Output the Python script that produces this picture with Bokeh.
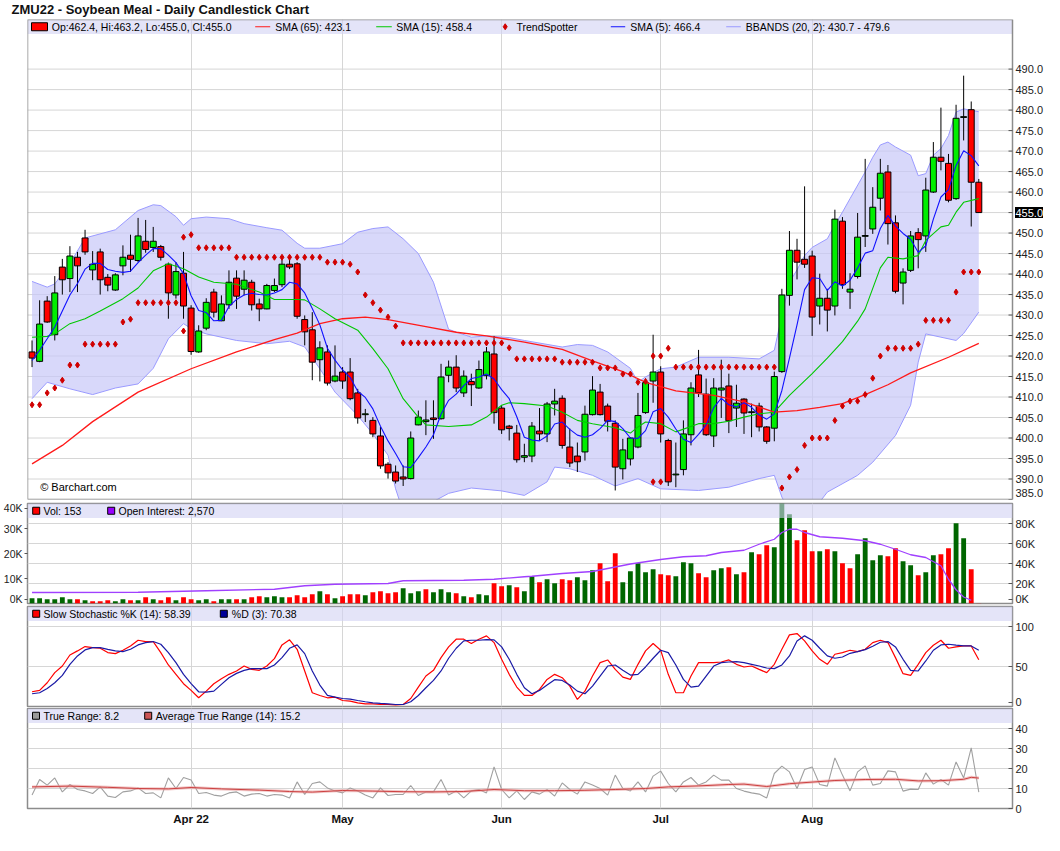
from bokeh.plotting import figure
from bokeh.layouts import column
from bokeh.models import Range1d, FixedTicker, LinearAxis
from bokeh.core.properties import value
from bokeh.embed import file_html
from bokeh.resources import INLINE

FONT = "Liberation Sans"

# ---------------- data ----------------
month_idx = [21, 41, 62, 83, 103]
month_labels = ["Apr 22", "May", "Jun", "Jul", "Aug"]

opens = [421.0, 418.7, 433.4, 425.2, 441.7, 438.9, 444.1, 448.8, 441.0, 445.4,
         439.2, 436.1, 442.0, 444.6, 443.3, 448.0, 446.5, 446.7, 442.4, 434.9,
         440.2, 431.7, 421.0, 426.8, 435.6, 428.6, 432.5, 439.0, 436.3, 438.0,
         432.7, 431.5, 436.0, 437.4, 442.4, 442.5, 428.9, 426.4, 419.1, 421.0,
         413.9, 416.1, 416.1, 411.0, 405.7, 404.3, 400.5, 393.6, 391.7, 390.5,
         390.1, 403.2, 404.0, 404.9, 404.7, 415.3, 417.3, 411.0, 413.8, 412.2,
         415.2, 420.5, 407.3, 402.9, 401.2, 395.3, 395.6, 401.7, 401.0, 408.3,
         409.7, 397.8, 395.6, 396.6, 405.7, 411.2, 407.8, 403.6, 392.5, 394.9,
         397.8, 406.2, 413.9, 416.1, 399.4, 391.0, 392.3, 400.8, 415.4, 410.7,
         400.5, 411.7, 412.7, 407.3, 409.5, 406.2, 407.8, 402.7, 402.4, 416.2,
         434.8, 445.8, 443.6, 444.4, 432.2, 434.1, 432.2, 452.9, 435.6, 439.4,
         449.2, 451.0, 458.5, 464.9, 452.5, 437.8, 440.9, 450.1, 449.3, 460.0,
         468.5, 467.0, 458.4, 478.2, 480.1, 462.4]
highs = [423.8, 433.6, 434.6, 439.5, 443.7, 446.8, 445.4, 450.8, 445.6, 446.2,
         440.0, 440.2, 447.0, 449.6, 453.7, 453.2, 451.5, 447.1, 442.8, 442.9,
         445.4, 432.4, 427.5, 434.1, 436.4, 434.8, 440.9, 440.9, 440.9, 438.6,
         434.0, 437.6, 438.9, 444.5, 444.5, 442.9, 429.9, 430.7, 423.6, 422.6,
         422.6, 417.3, 419.5, 412.0, 407.1, 405.1, 402.7, 394.1, 393.3, 393.3,
         401.6, 406.7, 409.2, 409.2, 418.1, 418.9, 420.2, 416.5, 415.7, 418.9,
         422.2, 424.9, 408.0, 403.2, 403.2, 398.6, 403.9, 407.3, 408.8, 412.0,
         410.4, 402.3, 398.9, 407.9, 415.1, 413.2, 408.4, 404.3, 399.8, 400.2,
         411.0, 414.5, 425.2, 417.5, 399.8, 398.9, 404.3, 413.6, 421.5, 414.5,
         414.6, 419.1, 415.7, 413.0, 409.7, 408.4, 408.6, 402.9, 416.2, 436.4,
         450.5, 448.6, 461.4, 445.7, 440.1, 436.4, 455.7, 453.9, 440.2, 454.9,
         468.1, 461.2, 468.1, 466.6, 454.3, 441.4, 450.5, 451.2, 463.5, 472.2,
         480.6, 469.3, 481.3, 488.4, 482.1, 463.2]
lows = [417.3, 418.5, 428.1, 423.8, 435.0, 435.6, 435.6, 444.7, 438.5, 435.0,
        435.8, 435.9, 439.7, 440.5, 442.9, 445.2, 445.4, 443.3, 429.1, 434.0,
        429.1, 420.3, 420.8, 426.3, 429.4, 428.5, 431.5, 431.5, 434.8, 431.1,
        428.5, 431.4, 435.6, 436.8, 441.2, 429.1, 422.6, 414.1, 413.8, 412.8,
        413.6, 412.0, 409.2, 403.5, 403.9, 400.2, 392.5, 390.1, 388.9, 388.3,
        389.9, 403.1, 400.7, 399.8, 404.5, 413.6, 411.2, 410.0, 407.8, 412.0,
        414.3, 403.5, 401.0, 399.4, 394.0, 394.1, 394.1, 399.4, 399.0, 405.5,
        397.4, 392.9, 391.7, 394.5, 405.5, 405.5, 401.6, 387.2, 389.9, 393.3,
        397.5, 405.9, 408.6, 398.9, 388.3, 388.0, 390.9, 398.2, 410.0, 400.5,
        397.8, 404.9, 401.2, 402.7, 401.0, 400.2, 401.6, 398.6, 399.2, 415.9,
        432.3, 438.7, 441.5, 424.9, 427.7, 426.0, 429.9, 436.4, 431.5, 438.9,
        446.6, 449.8, 455.5, 447.2, 435.3, 432.6, 440.5, 441.4, 445.4, 459.8,
        465.3, 457.5, 458.1, 472.6, 451.6, 455.0]
closes = [419.5, 427.8, 428.3, 435.4, 438.6, 444.4, 442.0, 445.4, 442.4, 438.6,
          437.3, 439.8, 444.1, 443.6, 449.3, 446.0, 448.0, 444.1, 435.4, 440.6,
          432.2, 421.1, 426.1, 433.1, 430.7, 432.7, 438.0, 434.6, 438.5, 432.5,
          431.5, 437.2, 437.2, 442.4, 441.7, 429.7, 425.9, 418.5, 422.0, 413.4,
          415.1, 413.9, 409.6, 404.9, 405.9, 401.0, 393.2, 391.5, 389.5, 390.0,
          400.0, 405.1, 404.4, 404.5, 414.9, 417.3, 412.2, 415.1, 413.0, 416.7,
          421.0, 406.2, 402.0, 402.3, 394.7, 395.7, 402.9, 401.0, 408.3, 409.0,
          398.2, 393.9, 394.2, 405.8, 411.7, 405.7, 404.1, 392.9, 397.1, 400.0,
          405.5, 413.5, 416.1, 401.0, 389.3, 391.2, 401.0, 412.2, 411.0, 400.8,
          412.2, 412.2, 404.2, 408.5, 406.1, 406.4, 402.7, 399.2, 415.0, 434.9,
          445.8, 442.9, 442.4, 429.5, 434.1, 431.2, 453.4, 437.4, 436.3, 449.0,
          449.4, 456.3, 464.6, 452.3, 435.8, 440.5, 449.3, 448.4, 460.5, 468.5,
          467.5, 458.0, 478.0, 478.4, 462.4, 455.0]

sma5 = [418.9, 421.4, 424.2, 427.1, 431.0, 434.9, 437.7, 441.2, 442.6, 442.6,
        441.1, 440.7, 440.4, 440.7, 442.8, 444.6, 446.2, 446.2, 444.6, 442.8,
        440.1, 434.7, 431.1, 430.6, 428.6, 428.7, 432.1, 433.8, 434.9, 435.3,
        435.0, 434.9, 435.4, 436.2, 438.0, 437.6, 435.4, 431.6, 427.6, 421.9,
        419.0, 416.6, 414.8, 411.4, 409.9, 407.1, 402.9, 399.3, 396.2, 393.0,
        392.8, 395.2, 397.8, 400.8, 405.8, 409.2, 410.7, 412.8, 414.5, 414.9,
        415.6, 414.4, 411.8, 409.6, 405.2, 400.2, 399.5, 399.3, 400.5, 403.4,
        403.9, 402.1, 400.7, 400.2, 400.8, 402.3, 404.3, 404.0, 402.3, 400.0,
        399.9, 401.8, 406.4, 407.2, 405.1, 402.2, 399.7, 398.9, 400.9, 403.2,
        407.4, 409.7, 408.1, 407.6, 408.6, 407.5, 405.6, 404.6, 405.9, 411.6,
        419.5, 427.6, 436.2, 439.1, 438.9, 436.0, 438.1, 437.1, 438.5, 441.5,
        445.1, 445.7, 451.1, 454.3, 451.7, 449.9, 448.5, 445.3, 446.9, 453.4,
        458.8, 460.6, 466.5, 470.1, 468.9, 466.4]

sma15_x = [0, 2, 3, 5, 7, 9, 12, 14, 16, 18, 20, 22, 24, 27, 30, 32, 35, 36, 38, 40,
           43, 45, 47, 49, 51, 52, 55, 58, 60, 62, 63, 65, 68, 70, 72, 74, 77, 79, 80, 81,
           83, 85, 88, 90, 92, 94, 96, 98, 100, 103, 105, 107, 109, 110, 111, 112, 113, 115, 117, 118,
           120, 121, 122, 123, 125]
sma15_y = [424.6, 424.8, 425.4, 427.9, 429.1, 431.0, 434.0, 436.6, 440.8, 442.5,
           441.3, 439.3, 438.0, 437.5, 435.6, 433.8, 433.8, 433.7, 431.5, 429.1,
           426.3, 421.8, 416.9, 409.6, 405.1, 403.2, 402.8, 403.2, 405.1, 408.0,
           408.6, 408.4, 407.8, 406.3, 404.3, 403.5, 402.5, 401.2, 402.7, 403.9,
           403.5, 401.5, 403.5, 403.5, 404.1, 405.1, 405.9, 406.3, 410.4, 415.7,
           419.5, 423.5, 428.5, 431.5, 436.5, 441.5, 444.1, 443.7, 444.5, 448.2,
           451.5, 451.9, 455.1, 457.5, 458.4]

sma65_x = [0, 4, 8, 14, 21, 27, 32, 35, 38, 41, 44, 47, 52, 56, 60, 65, 70, 74, 78, 81,
           85, 90, 94, 98, 101, 104, 107, 110, 113, 116, 121, 125]
sma65_y = [393.7, 398.2, 404.0, 411.2, 416.9, 421.0, 424.0, 425.6, 427.9, 429.1,
           429.5, 428.9, 427.2, 425.8, 424.9, 423.4, 421.6, 418.8, 416.2, 413.6,
           411.5, 410.4, 408.8, 406.3, 406.7, 407.5, 408.4, 410.6, 413.0, 415.9,
           419.7, 423.1]

bbu_x = [0, 2, 3, 5, 7, 11, 14, 16, 17, 19, 20, 21, 23, 26, 28, 31, 33, 35, 36, 38,
         41, 43, 45, 47, 49, 51, 53, 55, 58, 60, 63, 65, 70, 72, 74, 76, 79, 80, 81, 83,
         85, 88, 92, 96, 98, 99, 100, 101, 102, 103, 105, 106, 107, 108, 110, 111, 112, 113, 114, 116,
         117, 118, 119, 120, 121, 122, 123, 125]
bbu_y = [438.2, 436.8, 437.6, 442.5, 448.8, 450.8, 455.5, 456.9, 456.7, 454.0,
         451.9, 453.5, 453.9, 453.5, 452.3, 451.3, 450.7, 447.5, 446.3, 446.3,
         447.4, 450.2, 451.1, 451.5, 448.6, 445.0, 438.0, 426.5, 424.6, 424.9,
         424.5, 423.8, 422.2, 422.8, 422.6, 421.0, 417.0, 413.6, 414.9, 416.9,
         417.3, 419.7, 419.7, 419.3, 421.4, 429.9, 438.0, 441.0, 444.5, 446.5,
         448.6, 452.0, 455.1, 458.4, 464.9, 468.5, 471.5, 472.2, 471.0, 469.0,
         464.0, 464.5, 469.0, 470.6, 473.8, 479.5, 480.3, 479.6]
bbl_x = [0, 2, 5, 8, 11, 14, 16, 18, 20, 21, 23, 27, 31, 34, 36, 38, 40, 43, 45, 47,
         48, 49, 51, 53, 55, 58, 62, 65, 68, 69, 71, 74, 77, 80, 83, 88, 92, 96, 98, 99,
         100, 102, 104, 105, 109, 111, 114, 116, 117, 118, 120, 122, 123, 125]
bbl_y = [409.6, 413.6, 412.0, 410.6, 412.2, 413.2, 417.0, 424.2, 427.9, 426.7,
         425.4, 423.8, 423.0, 423.6, 422.2, 416.9, 411.2, 405.5, 401.0, 395.8,
         387.6, 382.0, 378.0, 384.5, 386.5, 387.8, 387.1, 386.0, 389.3, 392.9,
         392.5, 390.9, 388.3, 390.1, 387.6, 387.2, 388.0, 390.1, 390.9, 385.6,
         382.0, 378.0, 384.4, 386.8, 390.9, 394.1, 400.6, 408.0, 418.5, 425.4,
         424.6, 423.8, 425.5, 430.7]

trend_spotter = [408.1, 408.1, 411.0, 412.2, 414.1, 417.8, 417.8, 422.9, 422.9, 422.9,
                 422.9, 422.9, 428.3, 429.0, 433.0, 433.0, 433.0, 433.0, 433.0, 433.0,
                 449.0, 449.6, 446.4, 446.4, 446.4, 446.4, 446.4, 444.1, 444.1, 444.1,
                 444.1, 444.1, 444.1, 444.1, 444.1, 444.1, 444.1, 444.1, 444.1, 442.9,
                 442.9, 442.9, 442.4, 440.5, 434.9, 433.0, 431.2, 429.5, 427.3, 423.2,
                 423.2, 423.2, 423.2, 423.2, 423.2, 423.2, 423.2, 423.2, 423.2, 423.2,
                 423.2, 423.2, 423.2, 422.0, 419.3, 419.3, 419.3, 419.3, 419.3, 419.3,
                 418.5, 418.5, 418.5, 418.5, 418.5, 417.1, 417.1, 417.1, 415.6, 415.6,
                 413.6, 413.8, 420.0, 420.0, 421.9, 417.3, 417.3, 417.3, 417.3, 417.3,
                 417.3, 417.3, 417.3, 417.3, 417.3, 417.3, 417.3, 417.3, 417.3, 387.8,
                 390.5, 392.3, 398.2, 400.0, 400.0, 400.0, 404.3, 407.8, 409.0, 409.0,
                 410.6, 414.6, 420.0, 421.9, 421.9, 421.9, 421.9, 422.9, 428.7, 428.7,
                 428.7, 428.7, 435.6, 440.5, 440.5, 440.5]
trend_extra_x = [20, 82, 83]
trend_extra_y = [426.1, 389.3, 389.3]

volume_k = [5.3, 5.3, 4.3, 4.3, 6.3, 4.3, 4.3, 3.3, 2.3, 2.3,
            3.3, 2.3, 4.3, 3.3, 3.3, 6.3, 4.3, 3.3, 6.3, 3.3,
            6.3, 4.3, 3.3, 4.3, 2.3, 4.3, 4.3, 4.3, 4.3, 6.3,
            7.3, 6.3, 7.3, 6.3, 6.3, 8.3, 6.3, 9.3, 12.3, 9.3,
            5.3, 7.3, 9.3, 9.3, 8.3, 11.3, 12.3, 10.3, 11.3, 15.3,
            10.3, 12.3, 14.3, 11.3, 14.3, 11.3, 10.3, 7.3, 6.3, 9.3,
            8.3, 20.3, 17.3, 18.3, 16.3, 12.3, 27.3, 21.3, 24.3, 20.3,
            24.3, 23.3, 26.3, 23.3, 33.3, 40.3, 22.3, 50.3, 21.3, 32.3,
            40.3, 31.3, 34.3, 29.3, 28.3, 27.3, 41.3, 40.3, 30.3, 26.3,
            33.3, 35.3, 36.3, 29.3, 31.3, 51.3, 49.3, 58.3, 56.3, 104.0,
            89.3, 63.3, 73.3, 52.3, 52.3, 54.3, 52.3, 40.3, 35.3, 49.3,
            65.3, 43.3, 48.3, 47.3, 55.3, 42.3, 38.3, 28.3, 31.3, 48.3,
            49.3, 55.3, 80.3, 65.3, 34.3, 0.153]

oi_x = [0, 14, 23, 32, 36, 40, 47, 49, 57, 61, 65, 66, 70, 74, 76, 79, 83, 86, 89, 91,
        94, 96, 98, 99, 100, 101, 102, 104, 107, 110, 112, 114, 116, 118, 120, 121, 122, 123, 124]
oi_k = [4.4, 4.5, 5.1, 5.7, 7.1, 7.7, 8.0, 9.1, 9.3, 9.7,
        10.7, 10.9, 12.0, 12.8, 14.0, 15.8, 17.6, 18.7, 19.1, 20.4,
        21.3, 23.7, 25.7, 28.4, 29.7, 29.7, 28.4, 26.7, 26.1, 25.1,
        23.7, 21.7, 19.5, 18.4, 15.1, 9.7, 5.5, 2.6, 1.3]

stoch_k = [18.4, 20.1, 29.7, 42.3, 50.6, 64.4, 69.5, 74.9, 73.6, 72.8,
           67.4, 66.1, 70.3, 75.7, 82.8, 81.2, 81.2, 67.4, 51.9, 40.2,
           28.5, 20.1, 10.9, 19.2, 28.5, 34.7, 40.2, 44.4, 50.6, 46.4,
           45.2, 50.6, 59.8, 77.0, 83.3, 71.5, 44.4, 17.2, 13.8, 10.9,
           11.7, 7.5, 6.7, 4.6, 3.3, 3.3, 2.5, 2.5, 2.1, 2.5,
           10.0, 24.3, 38.1, 45.2, 61.1, 74.5, 84.1, 84.1, 78.7, 84.1,
           88.3, 79.9, 59.0, 40.2, 24.3, 13.8, 13.8, 21.3, 33.9, 40.2,
           36.0, 25.5, 8.8, 19.2, 38.1, 54.8, 58.2, 46.4, 36.8, 33.9,
           52.7, 69.5, 78.7, 70.3, 40.2, 17.2, 17.2, 38.1, 54.8, 54.8,
           54.8, 55.6, 58.2, 52.7, 49.4, 50.6, 46.4, 42.3, 52.7, 71.5,
           89.5, 91.2, 82.0, 69.5, 59.0, 52.7, 65.3, 67.4, 70.3, 68.6,
           71.5, 79.9, 82.8, 79.9, 61.1, 41.0, 38.9, 52.7, 67.4, 76.6,
           82.8, 72.8, 74.5, 75.7, 75.7, 58.4]
stoch_d = [15.9, 17.2, 22.6, 29.7, 38.9, 52.7, 63.2, 70.7, 73.6, 73.6,
           71.5, 69.5, 68.6, 71.5, 77.0, 79.9, 81.2, 77.8, 67.4, 54.8,
           40.2, 28.5, 18.4, 18.0, 19.2, 27.6, 36.0, 41.4, 45.2, 47.3,
           47.3, 47.3, 51.9, 61.1, 72.8, 77.0, 66.1, 44.4, 26.8, 13.8,
           11.7, 10.0, 9.2, 7.5, 5.9, 4.6, 3.8, 3.3, 2.5, 2.5,
           5.9, 13.8, 23.4, 32.6, 44.4, 60.3, 72.8, 82.0, 82.8, 82.8,
           83.7, 83.3, 74.5, 59.0, 40.2, 23.4, 15.9, 20.1, 26.8, 33.5,
           32.6, 26.8, 19.2, 15.9, 25.5, 38.1, 50.6, 51.9, 45.2, 39.3,
           40.2, 49.4, 60.3, 70.3, 67.4, 51.9, 33.9, 24.3, 25.5, 38.1,
           50.6, 54.8, 55.6, 56.1, 54.8, 52.7, 50.6, 48.1, 47.3, 51.9,
           63.2, 82.0, 88.3, 82.8, 72.8, 63.2, 60.3, 61.9, 66.5, 68.6,
           71.1, 75.3, 80.3, 81.2, 74.5, 59.0, 45.2, 44.4, 56.9, 70.3,
           77.0, 77.8, 76.6, 75.7, 75.7, 70.4]

true_range = [6.7, 14.5, 11.7, 15.3, 8.3, 12.0, 9.5, 8.8, 7.5, 10.8,
              6.2, 5.5, 8.3, 8.8, 10.3, 7.5, 7.8, 5.3, 15.3, 10.0,
              15.5, 14.2, 7.5, 8.0, 6.7, 6.2, 7.8, 8.3, 6.2, 7.2,
              7.5, 6.2, 7.0, 6.7, 5.3, 13.3, 7.0, 12.5, 13.3, 10.3,
              8.8, 7.8, 10.3, 8.8, 6.7, 5.3, 10.3, 6.5, 7.0, 7.0,
              11.5, 6.5, 8.3, 8.3, 14.5, 6.7, 8.8, 5.3, 8.8, 9.5,
              7.8, 20.8, 9.5, 5.3, 8.8, 4.5, 8.3, 7.2, 9.5, 6.2,
              12.8, 9.5, 7.2, 13.3, 11.7, 10.0, 6.7, 16.7, 10.0, 8.8,
              13.3, 8.3, 16.2, 18.7, 12.5, 8.3, 13.3, 15.5, 11.7, 13.3,
              16.7, 14.2, 14.2, 10.0, 8.7, 7.8, 7.2, 5.3, 17.5, 21.2,
              18.3, 10.0, 19.5, 20.8, 12.0, 11.2, 25.3, 16.7, 8.8, 18.3,
              21.3, 11.7, 12.5, 18.8, 18.3, 8.7, 9.7, 9.5, 17.8, 12.2,
              14.5, 11.7, 23.3, 15.3, 30.3, 8.2]

atr_x = [0, 5, 10, 14, 18, 21, 25, 30, 34, 37, 41, 45, 49, 53, 57, 61, 65, 69, 73, 77,
         81, 84, 88, 92, 94, 97, 100, 103, 106, 110, 114, 117, 120, 123, 124, 125]
atr_y = [10.8, 11.2, 10.6, 10.0, 9.8, 10.5, 9.8, 9.2, 8.5, 8.2,
         9.0, 8.7, 8.4, 8.3, 8.5, 9.5, 8.9, 8.9, 9.1, 9.5,
         10.0, 10.8, 11.3, 12.0, 12.2, 11.0, 12.4, 13.2, 14.0, 14.5,
         14.6, 13.8, 13.9, 14.6, 15.6, 15.2]

price_ticks = [385 + 5 * k for k in range(22)]
vol_ticks = [0, 20, 40, 60, 80]
oi_ticks = [0, 10, 20, 30, 40]
stoch_ticks = [0, 50, 100]
tr_ticks = [0, 10, 20, 30, 40]

# ---------------- layout constants ----------------
X0, X1 = -0.6, 129.45
FW = 985
LB, RB = 24, 40
XR = Range1d(X0, X1)
UPX = (X1 - X0) / FW              # data units per pixel along x
UP, DOWN = "#00ee00", "#ff0000"
GRID = "#d6d6d6"
FRAME = "#8c8c8c"
BAND_H = 14.5
EDGE_PX = 4.5

n = len(closes)
idx = list(range(n))


def xoff(px):
    return X0 + px * UPX


def base_fig(fh, y0, y1, top, bottom, xaxis=False, title=None, xr=None, fw=FW, rb=RB,
             yaxis="right"):
    kw = dict(frame_width=fw, frame_height=fh, x_range=xr or XR, y_range=Range1d(y0, y1),
              output_backend="svg", toolbar_location=None,
              x_axis_location="below" if xaxis else None, y_axis_location=yaxis,
              min_border_left=LB, min_border_right=rb, min_border_top=top,
              min_border_bottom=bottom, background_fill_color="white",
              border_fill_color="white")
    if title:
        kw["title"] = title
    p = figure(**kw)
    p.outline_line_color = FRAME
    p.outline_line_width = 1.5
    p.xgrid.ticker = FixedTicker(ticks=month_idx)
    p.xgrid.grid_line_color = GRID
    p.ygrid.grid_line_color = GRID
    return p


def edge_ticks(ticks, labels, y0, y1, fh, bottom=True, top=True):
    upp = (y1 - y0) / fh
    pos, over = [], {}
    for t, lab in zip(ticks, labels):
        q = t
        if bottom and abs(t - y0) < EDGE_PX * upp:
            q = y0 + EDGE_PX * upp
        elif top and abs(t - y1) < EDGE_PX * upp:
            q = y1 - EDGE_PX * upp
        pos.append(q)
        over[q] = lab
    return pos, over


def style_axis(ax, ticks, labels, y0, y1, fh, size="11px", standoff=3, tick_in=4, tick_out=0,
               bottom=True, top=True):
    pos, over = edge_ticks(ticks, labels, y0, y1, fh, bottom, top)
    ax.ticker = FixedTicker(ticks=pos)
    ax.major_label_overrides = over
    ax.major_label_text_font = FONT
    ax.major_label_text_font_size = size
    ax.major_label_text_color = "#222222"
    ax.major_tick_in = tick_in
    ax.major_tick_out = tick_out
    ax.major_tick_line_color = "#555555"
    ax.minor_tick_line_color = None
    ax.axis_line_color = None
    ax.major_label_standoff = standoff


def add_band(p, y0, y1, fh):
    upy = (y1 - y0) / fh
    p.quad(left=[X0], right=[X1], top=[y1], bottom=[y1 - BAND_H * upy],
           fill_color="#d2d2f3", fill_alpha=0.6, line_color=None)
    return y1 - BAND_H / 2 * upy, upy


def ltext(p, px, y, txt, size="10.5px", color="#000000"):
    p.text(x=[xoff(px)], y=[y], text=[txt], text_font=value(FONT), text_font_size=size,
           text_baseline="middle", text_align="left", text_color=color)


def lsquare(p, cx, y, upy, color, half=3.5):
    p.quad(left=[xoff(cx - half)], right=[xoff(cx + half)], top=[y + half * upy],
           bottom=[y - half * upy], fill_color=color, line_color="black", line_width=1)


def lline(p, a, b, y, color, w=1.2):
    p.line([xoff(a), xoff(b)], [y, y], line_color=color, line_width=w)


# ---------------- main price panel ----------------
# the frame is widened over the right margin so the price scale (with its black
# last-price marker) can be drawn as text; the visible plot box ends at X1.
PY0, PY1, PFH = 385.0, 502.1, 480
FW1 = FW + RB
XR1 = Range1d(X0, X0 + FW1 * UPX)
p1 = base_fig(PFH, PY0, PY1, 18, 2, title="ZMU22 - Soybean Meal - Daily Candlestick Chart",
              xr=XR1, fw=FW1, rb=0, yaxis=None)
p1.outline_line_color = None
p1.ygrid.grid_line_color = None
p1.title.text_font = FONT
p1.title.text_font_size = "13px"
p1.title.text_font_style = "bold"
p1.title.text_color = "#111111"
p1.title.align = "left"
p1.title.vertical_align = "top"
p1.title.offset = -16
p1.title.standoff = 2
upy = (PY1 - PY0) / PFH

# horizontal grid lines inside the plot box
p1.segment(x0=[X0] * len(price_ticks), x1=[X1] * len(price_ticks), y0=price_ticks,
           y1=price_ticks, line_color=GRID, line_width=1)

# Bollinger band area
p1.patch(bbu_x + bbl_x[::-1], bbu_y + bbl_y[::-1], fill_color="#c7c7f8", fill_alpha=0.7,
         line_color=None)
p1.line(bbu_x, bbu_y, line_color="#9a9aff", line_width=1)
p1.line(bbl_x, bbl_y, line_color="#9a9aff", line_width=1)

# candles
body_top = [max(o, c) for o, c in zip(opens, closes)]
body_bot = [min(o, c) for o, c in zip(opens, closes)]
body_col = [UP if c >= o else DOWN for o, c in zip(opens, closes)]
p1.segment(x0=idx, y0=lows, x1=idx, y1=highs, line_color="black", line_width=1)
p1.vbar(x=idx, top=body_top, bottom=body_bot, width=0.79, fill_color=body_col,
        line_color="black", line_width=1)

# studies
p1.line(sma65_x, sma65_y, line_color="#ff1a1a", line_width=1.3)
p1.line(sma15_x, sma15_y, line_color="#00c800", line_width=1.1)
p1.line(idx, sma5, line_color="#1010ff", line_width=1.1)
p1.scatter(idx, trend_spotter, marker="diamond", size=6, color="#d00000")
p1.scatter(trend_extra_x, trend_extra_y, marker="diamond", size=6, color="#d00000")

# legend band
ly, _ = add_band(p1, PY0, PY1, PFH)
p1.quad(left=[xoff(4)], right=[xoff(20)], top=[ly + 4 * upy], bottom=[ly - 4 * upy],
        fill_color=DOWN, line_color="black", line_width=1)
ltext(p1, 24.3, ly, "Op:462.4, Hi:463.2, Lo:455.0, Cl:455.0")
lline(p1, 227.7, 242.7, ly, "#ff1a1a")
ltext(p1, 247.7, ly, "SMA (65): 423.1")
lline(p1, 348.7, 364.3, ly, "#00c800")
ltext(p1, 368.7, ly, "SMA (15): 458.4")
p1.scatter([xoff(477.7)], [ly], marker="diamond", size=6, color="#d00000")
ltext(p1, 489.0, ly, "TrendSpotter")
lline(p1, 583.3, 597.7, ly, "#1010ff")
ltext(p1, 602.7, ly, "SMA (5): 466.4")
lline(p1, 698.7, 713.3, ly, "#9a9aff")
ltext(p1, 718.3, ly, "BBANDS (20, 2): 430.7 - 479.6")

ltext(p1, 12.7, PY0 + 13 * upy, "\u00a9 Barchart.com", size="11px")

# plot box outline
p1.quad(left=[X0], right=[X1], bottom=[PY0], top=[PY1], fill_color=None,
        line_color=FRAME, line_width=1.5)

# price scale: ticks inside the box, labels to the right of it
p1.segment(x0=[X1 - 4 * UPX] * len(price_ticks), x1=[X1] * len(price_ticks),
           y0=price_ticks, y1=price_ticks, line_color="#555555", line_width=1)
lab_y = [t if t > PY0 else t + 6.5 * upy for t in price_ticks]
p1.text(x=[X1 + 3 * UPX] * len(price_ticks), y=lab_y, text=[f"{t:.1f}" for t in price_ticks],
        text_font=value(FONT), text_font_size="11px", text_baseline="middle",
        text_align="left", text_color="#222222")
# last price marker
p1.quad(left=[X1 + 2.5 * UPX], right=[X1 + 30.5 * UPX], bottom=[closes[-1] - 5.5 * upy],
        top=[closes[-1] + 5.5 * upy], fill_color="black", line_color=None)
p1.text(x=[X1 + 3 * UPX], y=[closes[-1]], text=[f"{closes[-1]:.1f}"], text_font=value(FONT),
        text_font_size="11px", text_baseline="middle", text_align="left",
        text_color="white")

# ---------------- volume panel ----------------
VFH = 100
VY0, VY1 = 0.0, 100.0
OY0, OY1 = 0.0, 40.0
p2 = base_fig(VFH, VY0, VY1, 2, 2)
p2.extra_y_ranges = {"oi": Range1d(OY0, OY1)}
style_axis(p2.yaxis[0], vol_ticks, [f"{t}K" for t in vol_ticks], VY0, VY1, VFH)
p2.ygrid.ticker = FixedTicker(ticks=vol_ticks[1:])
oi_axis = LinearAxis(y_range_name="oi")
style_axis(oi_axis, oi_ticks, [f"{t}K" for t in oi_ticks], OY0, OY1, VFH, size="10.5px",
           standoff=2, tick_in=0, tick_out=3)
p2.add_layout(oi_axis, "left")

vol_col = ["#006600" if (i == 0 or closes[i] >= closes[i - 1]) else "#ff0000" for i in idx]
p2.vbar(x=idx, top=volume_k, bottom=0, width=0.64, fill_color=vol_col, line_color=None)
p2.line(oi_x, oi_k, y_range_name="oi", line_color="#a040ff", line_width=1.3)

vy, vupy = add_band(p2, VY0, VY1, VFH)
lsquare(p2, 8.7, vy, vupy, "#ff0000")
ltext(p2, 16.0, vy, "Vol: 153")
lsquare(p2, 83.7, vy, vupy, "#9900ff")
ltext(p2, 91.0, vy, "Open Interest: 2,570")

# ---------------- stochastic panel ----------------
SFH = 100
SY0, SY1 = 0.0, 125.0
p3 = base_fig(SFH, SY0, SY1, 1, 2)
style_axis(p3.yaxis[0], stoch_ticks, [str(t) for t in stoch_ticks], SY0, SY1, SFH)
p3.ygrid.ticker = FixedTicker(ticks=[50, 100])
p3.line(idx, stoch_k, line_color="#ff0000", line_width=1.2)
p3.line(idx, stoch_d, line_color="#1a1aa6", line_width=1.2)
sy, supy = add_band(p3, SY0, SY1, SFH)
lsquare(p3, 8.7, sy, supy, "#ff0000")
ltext(p3, 16.0, sy, "Slow Stochastic %K (14): 58.39")
lsquare(p3, 196.3, sy, supy, "#000099")
ltext(p3, 204.3, sy, "%D (3): 70.38")

# ---------------- true range panel ----------------
TFH = 100
TY0, TY1 = 0.0, 50.0
p4 = base_fig(TFH, TY0, TY1, 0, 20, xaxis=True)
style_axis(p4.yaxis[0], tr_ticks, [str(t) for t in tr_ticks], TY0, TY1, TFH, bottom=False)
p4.ygrid.ticker = FixedTicker(ticks=[10, 20, 30, 40])
xa = p4.xaxis[0]
xa.ticker = FixedTicker(ticks=month_idx)
xa.major_label_overrides = dict(zip(month_idx, month_labels))
xa.major_label_text_font = FONT
xa.major_label_text_font_size = "11.5px"
xa.major_label_text_font_style = "bold"
xa.major_label_text_color = "#111111"
xa.major_tick_in = 0
xa.major_tick_out = 0
xa.major_tick_line_color = None
xa.minor_tick_line_color = None
xa.axis_line_color = None
xa.major_label_standoff = 4
p4.line(idx, true_range, line_color="#a0a0a0", line_width=1.1)
p4.line(atr_x, atr_y, line_color="#e8a0a0", line_width=3, line_alpha=0.6)
p4.line(atr_x, atr_y, line_color="#cc4040", line_width=1)
ty, tupy = add_band(p4, TY0, TY1, TFH)
lsquare(p4, 8.5, ty, tupy, "#999999")
ltext(p4, 16.0, ty, "True Range: 8.2")
lsquare(p4, 120.7, ty, tupy, "#cc5555")
ltext(p4, 128.3, ty, "Average True Range (14): 15.2")

layout = column(p1, p2, p3, p4, spacing=0)
open("out.html", "w").write(file_html(layout, INLINE))
